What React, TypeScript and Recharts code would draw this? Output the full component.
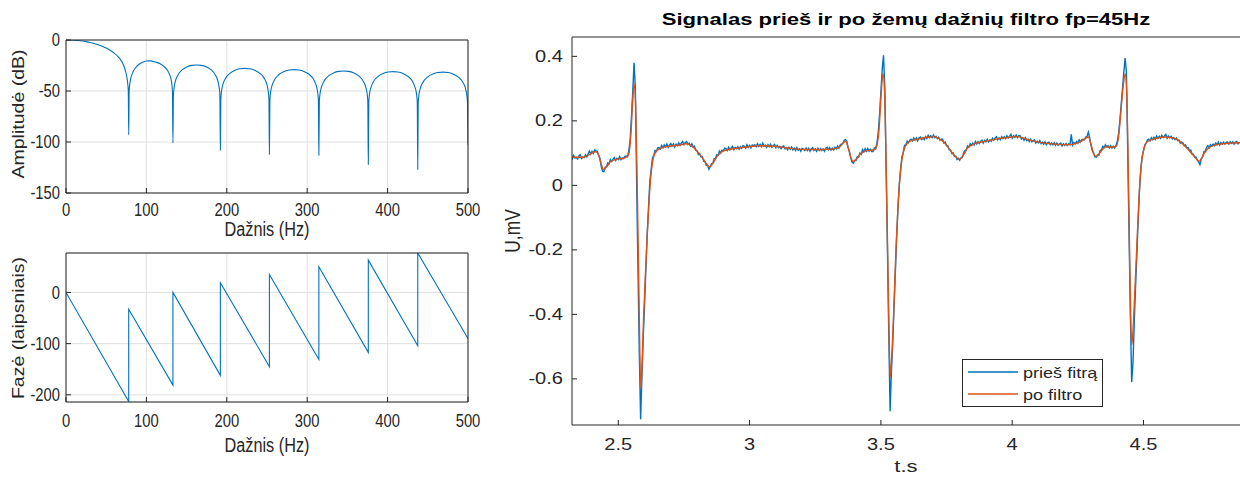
import { LineChart, Line, XAxis, YAxis, CartesianGrid } from 'recharts'

const FONT = '"Liberation Sans", Arial, Helvetica, sans-serif'
const INK = '#262626'
const GRID = '#e0e0e0'
const BLUE = '#0072BD'
const ORANGE = '#D95319'

// the left figure is stretched a bit vertically, the right one horizontally
const LEFT_FS = 14.8
const LEFT_SY = 1.2
const RIGHT_FS = 15.8
const RIGHT_SX = 1.27

// --- amplitude response (dB) ---
const ampFreq = [
  0, 5, 10, 15, 20, 25, 30, 35, 40, 45, 50, 55, 60, 65, 68, 70, 72, 74, 75.5, 76.7, 77.5, 78,
  78.55, 79.4, 80.8, 83.5, 89, 94.5, 100, 105, 111, 116.5, 122, 127.5, 130.2, 131.6, 132.4, 133,
  133.6, 134.5, 136, 138.9, 144.8, 150.7, 156.6, 162.5, 168.4, 174.3, 180.2, 186.1, 189, 190.5, 191.4, 192,
  192.6, 193.5, 195, 198.1, 204.2, 210.3, 216.4, 222.5, 228.6, 234.7, 240.8, 246.9, 250, 251.5, 252.4, 253,
  253.6, 254.5, 256.1, 259.2, 265.3, 271.5, 277.6, 283.8, 289.9, 296, 302.2, 308.4, 311.4, 313, 313.9, 314.5,
  315.1, 316, 317.6, 320.7, 326.8, 333, 339.1, 345.3, 351.4, 357.5, 363.7, 369.9, 372.9, 374.5, 375.4, 376,
  376.6, 377.5, 379.1, 382.2, 388.3, 394.5, 400.6, 406.8, 412.9, 419, 425.2, 431.4, 434.4, 436, 436.9, 437.5,
  438.1, 439, 440.6, 443.8, 450, 456.3, 462.5, 468.8, 475, 481.3, 487.5, 493.8, 496.9, 498.4, 499.4, 500,
]
const ampDb = [
  0, -0.05, -0.25, -0.55, -1, -1.6, -2.4, -3.4, -4.6, -6.1, -7.9, -10.1, -12.9, -16.5, -19.5, -22, -25.5, -30.5, -35.5, -42, -50, -93,
  -50, -43, -37, -31, -25, -22, -20.6, -20.5, -21.5, -23, -26, -31.5, -37, -43, -51, -101,
  -54.6, -46.6, -40.6, -34.7, -29.1, -26.3, -24.9, -24.5, -24.9, -26.3, -29.1, -34.7, -40.6, -46.6, -54.6, -108,
  -57.9, -49.9, -43.9, -38, -32.4, -29.6, -28.2, -27.8, -28.2, -29.6, -32.4, -38, -43.9, -49.9, -57.9, -112,
  -59.1, -51.1, -45.1, -39.2, -33.6, -30.8, -29.4, -29, -29.4, -30.8, -33.6, -39.2, -45.1, -51.1, -59.1, -113,
  -60.5, -52.5, -46.5, -40.6, -35, -32.2, -30.8, -30.4, -30.8, -32.2, -35, -40.6, -46.5, -52.5, -60.5, -122,
  -61.1, -53.1, -47.1, -41.2, -35.6, -32.8, -31.4, -31, -31.4, -32.8, -35.6, -41.2, -47.1, -53.1, -61.1, -127,
  -61.6, -53.6, -47.6, -41.7, -36.1, -33.3, -31.9, -31.5, -31.9, -33.3, -36.1, -41.7, -47.6, -53.6, -61.6, -103,
]

// --- phase response (degrees) ---
const phaseFreq = [0, 78, 78, 133, 133, 192, 192, 253, 253, 314.5, 314.5, 376, 376, 437.5, 437.5, 500]
const phaseDeg = [0, -213, -33, -181, 0, -162, 19, -145, 35, -131, 50, -117, 63, -104, 77, -90]

// --- ECG before filter, sampled every 5 ms from 2.32 s ---
const ecgStart = 2.32
const ecgStep = 0.005
const beforeFilter = [
  0.090, 0.083, 0.093, 0.085, 0.087, 0.082, 0.091, 0.095, 0.083, 0.087,
  0.086, 0.095, 0.088, 0.098, 0.106, 0.097, 0.105, 0.099, 0.110, 0.107,
  0.106, 0.093, 0.084, 0.059, 0.044, 0.042, 0.057, 0.058, 0.070, 0.067,
  0.080, 0.074, 0.081, 0.086, 0.077, 0.084, 0.080, 0.089, 0.080, 0.085,
  0.083, 0.090, 0.091, 0.089, 0.107, 0.140, 0.210, 0.290, 0.380, 0.300,
  0.000, -0.260, -0.520, -0.725, -0.590, -0.470, -0.370, -0.260, -0.150, -0.070,
  0.012, 0.047, 0.084, 0.093, 0.108, 0.105, 0.116, 0.117, 0.113, 0.124,
  0.116, 0.125, 0.119, 0.128, 0.118, 0.125, 0.130, 0.122, 0.129, 0.119,
  0.128, 0.123, 0.132, 0.124, 0.131, 0.136, 0.126, 0.133, 0.136, 0.127,
  0.131, 0.122, 0.129, 0.119, 0.121, 0.109, 0.107, 0.095, 0.098, 0.088,
  0.089, 0.075, 0.074, 0.062, 0.063, 0.050, 0.058, 0.067, 0.069, 0.083,
  0.083, 0.095, 0.093, 0.106, 0.100, 0.109, 0.107, 0.115, 0.113, 0.108,
  0.118, 0.110, 0.116, 0.121, 0.111, 0.118, 0.114, 0.120, 0.112, 0.120,
  0.115, 0.123, 0.121, 0.115, 0.126, 0.118, 0.124, 0.116, 0.125, 0.123,
  0.126, 0.120, 0.129, 0.121, 0.127, 0.120, 0.131, 0.121, 0.125, 0.118,
  0.126, 0.120, 0.127, 0.118, 0.123, 0.127, 0.117, 0.124, 0.117, 0.121,
  0.114, 0.120, 0.122, 0.113, 0.117, 0.110, 0.118, 0.112, 0.119, 0.110,
  0.115, 0.108, 0.117, 0.109, 0.113, 0.106, 0.115, 0.112, 0.108, 0.116,
  0.108, 0.115, 0.106, 0.113, 0.117, 0.108, 0.113, 0.106, 0.115, 0.108,
  0.114, 0.108, 0.113, 0.106, 0.115, 0.118, 0.110, 0.117, 0.109, 0.115,
  0.110, 0.118, 0.113, 0.122, 0.115, 0.125, 0.128, 0.129, 0.140, 0.142,
  0.137, 0.117, 0.106, 0.086, 0.072, 0.069, 0.077, 0.077, 0.089, 0.087,
  0.100, 0.096, 0.111, 0.104, 0.114, 0.106, 0.114, 0.106, 0.112, 0.105,
  0.105, 0.116, 0.116, 0.131, 0.165, 0.220, 0.290, 0.360, 0.403, 0.300,
  0.050, -0.200, -0.460, -0.700, -0.580, -0.490, -0.380, -0.270, -0.160, -0.070,
  0.002, 0.048, 0.088, 0.102, 0.124, 0.125, 0.137, 0.132, 0.140, 0.143,
  0.138, 0.147, 0.140, 0.147, 0.138, 0.147, 0.150, 0.142, 0.147, 0.142,
  0.151, 0.145, 0.155, 0.148, 0.154, 0.148, 0.156, 0.148, 0.152, 0.145,
  0.149, 0.140, 0.143, 0.143, 0.131, 0.134, 0.123, 0.123, 0.110, 0.110,
  0.099, 0.101, 0.090, 0.091, 0.080, 0.084, 0.078, 0.086, 0.086, 0.100,
  0.108, 0.110, 0.122, 0.118, 0.129, 0.124, 0.131, 0.125, 0.136, 0.128,
  0.136, 0.130, 0.136, 0.140, 0.131, 0.139, 0.135, 0.143, 0.135, 0.141,
  0.137, 0.146, 0.140, 0.147, 0.151, 0.141, 0.147, 0.142, 0.151, 0.145,
  0.151, 0.145, 0.154, 0.147, 0.152, 0.158, 0.146, 0.154, 0.149, 0.156,
  0.148, 0.154, 0.154, 0.144, 0.148, 0.140, 0.148, 0.139, 0.143, 0.136,
  0.143, 0.135, 0.139, 0.141, 0.131, 0.137, 0.132, 0.139, 0.129, 0.134,
  0.128, 0.135, 0.126, 0.132, 0.134, 0.126, 0.131, 0.126, 0.132, 0.124,
  0.131, 0.124, 0.128, 0.131, 0.122, 0.129, 0.124, 0.130, 0.124, 0.129,
  0.126, 0.158, 0.125, 0.133, 0.129, 0.136, 0.131, 0.141, 0.134, 0.141,
  0.143, 0.141, 0.150, 0.152, 0.165, 0.148, 0.125, 0.108, 0.101, 0.089,
  0.087, 0.095, 0.094, 0.108, 0.110, 0.121, 0.117, 0.126, 0.119, 0.123,
  0.116, 0.123, 0.116, 0.121, 0.116, 0.123, 0.135, 0.160, 0.200, 0.250,
  0.300, 0.350, 0.395, 0.350, 0.100, -0.150, -0.400, -0.610, -0.550, -0.420,
  -0.310, -0.210, -0.100, -0.010, 0.050, 0.090, 0.108, 0.126, 0.131, 0.141,
  0.143, 0.138, 0.148, 0.142, 0.149, 0.143, 0.153, 0.146, 0.152, 0.146,
  0.155, 0.148, 0.153, 0.158, 0.146, 0.153, 0.147, 0.152, 0.144, 0.148,
  0.142, 0.147, 0.139, 0.141, 0.131, 0.134, 0.132, 0.123, 0.126, 0.116,
  0.117, 0.108, 0.109, 0.097, 0.097, 0.087, 0.088, 0.078, 0.072, 0.064,
  0.082, 0.087, 0.104, 0.106, 0.117, 0.123, 0.117, 0.126, 0.122, 0.128,
  0.123, 0.131, 0.126, 0.134, 0.125, 0.133, 0.128, 0.134, 0.128, 0.133,
  0.134, 0.128, 0.135, 0.130, 0.135, 0.128, 0.134, 0.136, 0.129, 0.134,
]

// --- ECG after the 45 Hz low-pass (smooth, key points) ---
const afterTime = [
  2.32, 2.35, 2.37, 2.39, 2.405, 2.415, 2.425, 2.433, 2.44, 2.446, 2.455, 2.47, 2.49, 2.52, 2.535, 2.542, 2.548, 2.554,
  2.56, 2.566, 2.572, 2.578, 2.582, 2.586, 2.59, 2.596, 2.603, 2.61, 2.617, 2.624, 2.632, 2.64, 2.66, 2.7, 2.74, 2.755,
  2.775, 2.8, 2.82, 2.84, 2.848, 2.86, 2.88, 2.9, 2.95, 3.0, 3.04, 3.1, 3.16, 3.22, 3.28, 3.32, 3.34, 3.357, 3.366,
  3.375, 3.385, 3.395, 3.405, 3.42, 3.44, 3.46, 3.477, 3.486, 3.493, 3.5, 3.508, 3.515, 3.52, 3.526, 3.532, 3.536,
  3.54, 3.546, 3.552, 3.558, 3.565, 3.572, 3.58, 3.59, 3.61, 3.64, 3.68, 3.7, 3.72, 3.74, 3.76, 3.78, 3.8, 3.815,
  3.83, 3.86, 3.9, 3.95, 4.0, 4.02, 4.06, 4.1, 4.16, 4.21, 4.25, 4.27, 4.29, 4.3, 4.31, 4.32, 4.335, 4.355, 4.38,
  4.396, 4.405, 4.415, 4.423, 4.43, 4.436, 4.441, 4.446, 4.451, 4.455, 4.46, 4.467, 4.475, 4.483, 4.491, 4.5, 4.515,
  4.54, 4.585, 4.623, 4.661, 4.69, 4.712, 4.73, 4.75, 4.79, 4.83, 4.87,
]
const afterFilter = [
  0.087, 0.087, 0.088, 0.095, 0.103, 0.104, 0.094, 0.072, 0.054, 0.049, 0.057, 0.073, 0.080, 0.084, 0.090, 0.105, 0.160, 0.250,
  0.315, 0.250, 0.000, -0.300, -0.520, -0.630, -0.570, -0.420, -0.280, -0.160, -0.050, 0.030, 0.080, 0.100, 0.115, 0.122, 0.126, 0.129,
  0.125, 0.106, 0.086, 0.062, 0.057, 0.068, 0.094, 0.107, 0.115, 0.120, 0.123, 0.121, 0.114, 0.111, 0.111, 0.113, 0.117, 0.132, 0.137,
  0.118, 0.088, 0.074, 0.080, 0.095, 0.106, 0.109, 0.111, 0.128, 0.175, 0.270, 0.346, 0.270, 0.060, -0.220, -0.500, -0.594,
  -0.550, -0.450, -0.320, -0.190, -0.070, 0.020, 0.080, 0.115, 0.137, 0.143, 0.149, 0.151, 0.146, 0.134, 0.114, 0.092, 0.082, 0.095,
  0.116, 0.130, 0.137, 0.145, 0.150, 0.151, 0.142, 0.134, 0.128, 0.126, 0.132, 0.140, 0.150, 0.128, 0.098, 0.090, 0.102, 0.119, 0.119,
  0.121, 0.150, 0.240, 0.310, 0.346, 0.290, 0.100, -0.150, -0.400, -0.496, -0.450, -0.330, -0.180, -0.040, 0.060, 0.107, 0.136,
  0.144, 0.150, 0.144, 0.119, 0.093, 0.075, 0.098, 0.117, 0.128, 0.131, 0.132,
]

const freqTicks = [0, 100, 200, 300, 400, 500]
const ampTicks = [-150, -100, -50, 0]
const phaseTicks = [-200, -100, 0]
const timeTicks = [2.5, 3, 3.5, 4, 4.5]
const voltTicks = [-0.6, -0.4, -0.2, 0, 0.2, 0.4]

const ampData = ampFreq.map((f, i) => ({ f, y: ampDb[i] }))
const phaseData = phaseFreq.map((f, i) => ({ f, y: phaseDeg[i] }))
const beforeData = beforeFilter.map((v, i) => ({ t: +(ecgStart + i * ecgStep).toFixed(3), v }))
const afterData = afterTime.map((t, i) => ({ t, v: afterFilter[i] }))

// tick labels with the picture's stretch
const xTick = (fs: number, sx: number, sy: number) => (p: any) => (
  <text
    transform={`translate(${p.x},${p.y}) scale(${sx},${sy})`}
    textAnchor="middle"
    dy="0.71em"
    fontSize={fs}
    fontFamily={FONT}
    fill={INK}
  >
    {p.payload.value}
  </text>
)
const yTick = (fs: number, sx: number, sy: number) => (p: any) => (
  <text
    transform={`translate(${p.x},${p.y}) scale(${sx},${sy})`}
    textAnchor="end"
    dy="0.355em"
    fontSize={fs}
    fontFamily={FONT}
    fill={INK}
  >
    {p.payload.value}
  </text>
)

function FreqPanel({ data, domain, yTicks, height, margin, topH, xMargin, lineType }: any) {
  return (
    <LineChart width={480} height={height} margin={margin}>
      <CartesianGrid stroke={GRID} strokeWidth={1} />
      <XAxis
        dataKey="f"
        type="number"
        domain={[0, 500]}
        ticks={freqTicks}
        interval={0}
        allowDataOverflow
        height={30}
        stroke={INK}
        tickSize={-5}
        tickMargin={xMargin}
        tick={xTick(LEFT_FS, 1, LEFT_SY)}
      />
      <XAxis xAxisId="top" orientation="top" type="number" domain={[0, 500]} ticks={freqTicks} interval={0} allowDataOverflow height={topH} stroke={INK} tickSize={-5} tick={false} />
      <YAxis
        type="number"
        domain={domain}
        ticks={yTicks}
        interval={0}
        allowDataOverflow
        width={60}
        stroke={INK}
        tickSize={-5}
        tickMargin={11}
        tick={yTick(LEFT_FS, 1, LEFT_SY)}
      />
      <YAxis yAxisId="right" orientation="right" type="number" domain={domain} ticks={yTicks} interval={0} allowDataOverflow width={10} stroke={INK} tickSize={-5} tick={false} />
      <Line data={data} dataKey="y" type={lineType} stroke={BLUE} strokeWidth={1.1} dot={false} isAnimationActive={false} />
    </LineChart>
  )
}

function EcgPanel() {
  return (
    <LineChart width={760} height={479} margin={{ top: 17, right: 0, left: 32, bottom: 24 }}>
      <XAxis
        dataKey="t"
        type="number"
        domain={[2.3237, 4.8675]}
        ticks={timeTicks}
        interval={0}
        allowDataOverflow
        height={30}
        stroke={INK}
        tickSize={-5}
        tickMargin={19}
        tick={xTick(RIGHT_FS, RIGHT_SX, 1)}
      />
      <XAxis xAxisId="top" orientation="top" type="number" domain={[2.3237, 4.8675]} ticks={timeTicks} interval={0} allowDataOverflow height={20} stroke={INK} tickSize={-5} tick={false} />
      <YAxis
        type="number"
        domain={[-0.743, 0.46]}
        ticks={voltTicks}
        interval={0}
        allowDataOverflow
        width={60}
        stroke={INK}
        tickSize={-5}
        tickMargin={14}
        tick={yTick(RIGHT_FS, RIGHT_SX, 1)}
      />
      <Line data={beforeData} dataKey="v" type="linear" stroke={BLUE} strokeWidth={1.4} dot={false} isAnimationActive={false} />
      <Line data={afterData} dataKey="v" type="monotone" stroke={ORANGE} strokeWidth={1.4} dot={false} isAnimationActive={false} />
    </LineChart>
  )
}

export default function App() {
  const lfs = LEFT_FS * 1.1
  const rfs = RIGHT_FS * 1.1
  return (
    <div style={{ position: 'absolute', left: 0, top: 0, width: 1240, height: 479, background: '#fff', overflow: 'hidden', fontFamily: FONT }}>
      <div style={{ position: 'absolute', left: 0, top: 0 }}>
        <FreqPanel data={ampData} domain={[-150, 0]} yTicks={ampTicks} height={240} topH={20}
          margin={{ top: 20, right: 2, left: 6, bottom: 17 }} xMargin={15} lineType="monotone" />
      </div>
      <div style={{ position: 'absolute', left: 0, top: 240 }}>
        <FreqPanel data={phaseData} domain={[-214, 77]} yTicks={phaseTicks} height={239} topH={10}
          margin={{ top: 3, right: 2, left: 6, bottom: 47 }} xMargin={17} lineType="linear" />
      </div>
      <div style={{ position: 'absolute', left: 480, top: 0 }}>
        <EcgPanel />
      </div>

      {/* labels, title and legend */}
      <svg width={1240} height={479} style={{ position: 'absolute', left: 0, top: 0, pointerEvents: 'none' }} fontFamily={FONT} fill={INK}>
        <text transform={`translate(18.5,114) scale(1,${LEFT_SY}) rotate(-90)`} textAnchor="middle" dominantBaseline="central" fontSize={lfs}>Amplitudė (dB)</text>
        <text transform={`translate(267,229) scale(1,${LEFT_SY})`} textAnchor="middle" dominantBaseline="central" fontSize={lfs}>Dažnis (Hz)</text>
        <text transform={`translate(18.5,328) scale(1,${LEFT_SY}) rotate(-90)`} textAnchor="middle" dominantBaseline="central" fontSize={lfs}>Fazė (laipsniais)</text>
        <text transform={`translate(267,445) scale(1,${LEFT_SY})`} textAnchor="middle" dominantBaseline="central" fontSize={lfs}>Dažnis (Hz)</text>

        <text transform={`translate(906,19) scale(${RIGHT_SX},1)`} textAnchor="middle" dominantBaseline="central" fontSize={rfs} fontWeight="bold" fill="#000">
          Signalas prieš ir po žemų dažnių filtro fp=45Hz
        </text>
        <text transform={`translate(512,231) scale(${RIGHT_SX},1) rotate(-90)`} textAnchor="middle" dominantBaseline="central" fontSize={rfs}>U,mV</text>
        <text transform={`translate(906,466) scale(${RIGHT_SX},1)`} textAnchor="middle" dominantBaseline="central" fontSize={rfs}>t.s</text>

        <rect x={962.5} y={359.5} width={140} height={47} fill="#fff" stroke={INK} strokeWidth={1} />
        <line x1={968} y1={372} x2={1018} y2={372} stroke={BLUE} strokeWidth={1.3} />
        <line x1={968} y1={394} x2={1018} y2={394} stroke={ORANGE} strokeWidth={1.3} />
        <text transform={`translate(1023,373) scale(${RIGHT_SX},1)`} dominantBaseline="central" fontSize={RIGHT_FS * 0.9}>prieš fitrą</text>
        <text transform={`translate(1023,395) scale(${RIGHT_SX},1)`} dominantBaseline="central" fontSize={RIGHT_FS * 0.9}>po filtro</text>
      </svg>
    </div>
  )
}
